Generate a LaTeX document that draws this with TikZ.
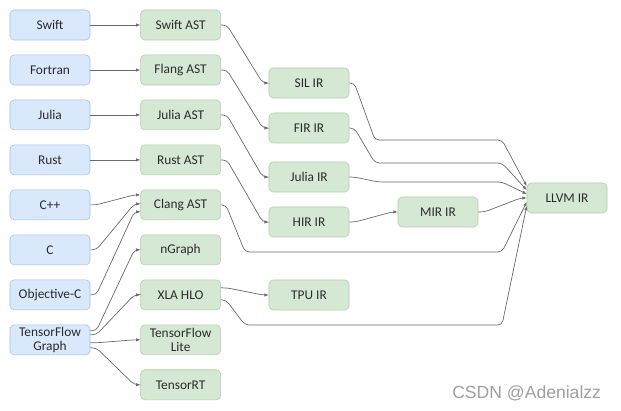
\documentclass[tikz,border=0pt]{standalone}
\usepackage{fontspec}
\setmainfont{Carlito}
\newfontfamily\markfont{Liberation Sans}
\usepackage{xcolor}
\usetikzlibrary{arrows.meta,positioning,calc}
\definecolor{LangFill}{HTML}{DAE8FC}
\definecolor{LangLine}{HTML}{A3BFE6}
\definecolor{IrFill}{HTML}{D5E8D4}
\definecolor{IrLine}{HTML}{AECFA2}
\definecolor{LinkGray}{HTML}{6A6A6A}
\definecolor{TextGray}{HTML}{2B2B2B}

\begin{document}
\begin{tikzpicture}[x=0.025cm,y=-0.025cm,node distance=0.36cm and 1.25cm,
  box/.style={rounded corners=3pt,minimum width=2cm,minimum height=0.75cm,inner sep=1pt,
              align=center,font=\fontsize{9.5}{10}\selectfont,text=TextGray},
  lang/.style={box,draw=LangLine,fill=LangFill},
  ir/.style={box,draw=IrLine,fill=IrFill},
  link/.style={draw=LinkGray,line width=0.5pt,rounded corners=3pt,
               -{Latex[length=3pt,width=2.4pt]}},
  hop/.style={to path={-- ++(6,0) -- ($(\tikztotarget)+(-6,0)$) -- (\tikztotarget)}}]
\useasboundingbox (0,0) rectangle (621,411);

% source languages
\node[lang] (swift) at (50,25) {Swift};
\node[lang,below=of swift] (fortran) {Fortran};
\node[lang,below=of fortran] (julia) {Julia};
\node[lang,below=of julia] (rust) {Rust};
\node[lang,below=of rust] (cpp) {C++};
\node[lang,below=of cpp] (c) {C};
\node[lang,below=of c] (objc) {Objective-C};
\node[lang,below=of objc] (tfgraph) {TensorFlow\\Graph};

% front ends
\node[ir,right=of swift] (swiftast) {Swift AST};
\node[ir,right=of fortran] (flangast) {Flang AST};
\node[ir,right=of julia] (juliaast) {Julia AST};
\node[ir,right=of rust] (rustast) {Rust AST};
\node[ir,right=of cpp] (clangast) {Clang AST};
\node[ir,right=of c] (ngraph) {nGraph};
\node[ir,right=of objc] (xlahlo) {XLA HLO};
\node[ir,right=of tfgraph] (tflite) {TensorFlow\\Lite};
\node[ir,below=of tflite] (tensorrt) {TensorRT};

% middle IRs
\node[ir] (silir) at (309,83) {SIL IR};
\node[ir] (firir) at (309,128) {FIR IR};
\node[ir] (juliair) at (309,177) {Julia IR};
\node[ir] (hirir) at (309,222) {HIR IR};
\node[ir] (tpuir) at (309,295) {TPU IR};
\node[ir] (mirir) at (438,212) {MIR IR};
\node[ir] (llvmir) at (567,198) {LLVM IR};

% ports
\coordinate (clang-in1) at ($(clangast.west)+(0,-10)$);
\coordinate (clang-in2) at ($(clangast.west)+(0,-1)$);
\coordinate (clang-in3) at ($(clangast.west)+(0,7)$);
\coordinate (tf-out1) at ($(tfgraph.east)+(0,-9)$);
\coordinate (tf-out2) at ($(tfgraph.east)+(0,-5)$);
\coordinate (tf-out3) at ($(tfgraph.east)+(0,3)$);
\coordinate (tf-out4) at ($(tfgraph.east)+(0,8)$);
\coordinate (xla-out1) at ($(xlahlo.east)+(0,-7)$);
\coordinate (xla-out2) at ($(xlahlo.east)+(0,5)$);
\foreach \i/\dy in {1/-12,2/-8,3/-4,4/0,5/4,6/8}
  \coordinate (llvm-in\i) at ($(llvmir.west)+(0,\dy)$);

% language -> front end
\foreach \src/\dst in {swift/swiftast,fortran/flangast,julia/juliaast,rust/rustast}
  \draw[link] (\src) -- (\dst);
\draw[link] (cpp.east) to[hop] (clang-in1);
\draw[link] (c.east) to[hop] (clang-in2);
\draw[link] (objc.east) to[hop] (clang-in3);
\draw[link] (tf-out1) to[hop] (ngraph.west);
\draw[link] (tf-out2) to[hop] (xlahlo.west);
\draw[link] (tf-out3) to[hop] (tflite.west);
\draw[link] (tf-out4) to[hop] (tensorrt.west);

% front end -> IR
\draw[link] (swiftast.east) to[hop] (silir.west);
\draw[link] (flangast.east) to[hop] (firir.west);
\draw[link] (juliaast.east) to[hop] (juliair.west);
\draw[link] (rustast.east) to[hop] (hirir.west);
\draw[link] (xla-out1) to[hop] (tpuir.west);
\draw[link] (hirir.east) to[hop] (mirir.west);

% everything ends in LLVM IR
\draw[link] (silir.east) -- ++(5,0) -- (375,140) -- (502,140) -- (llvm-in1);
\draw[link] (firir.east) -- ++(5,0) -- (375,163) -- (502,163) -- (llvm-in2);
\draw[link] (juliair.east) -- ++(5,0) -- (378,182) -- (502,182) -- (llvm-in3);
\draw[link] (mirir.east) to[hop] (llvm-in4);
\draw[link] (clangast.east) -- ++(5,0) -- (245,252) -- (502,252) -- (llvm-in5);
\draw[link] (xla-out2) -- ++(5,0) -- (245,325) -- (502,325) -- (llvm-in6);

\node[anchor=east,text=gray!75,font=\markfont\fontsize{12.5}{13}\selectfont] (mark) at (606,393) {CSDN @Adenialzz};
\end{tikzpicture}
\end{document}
